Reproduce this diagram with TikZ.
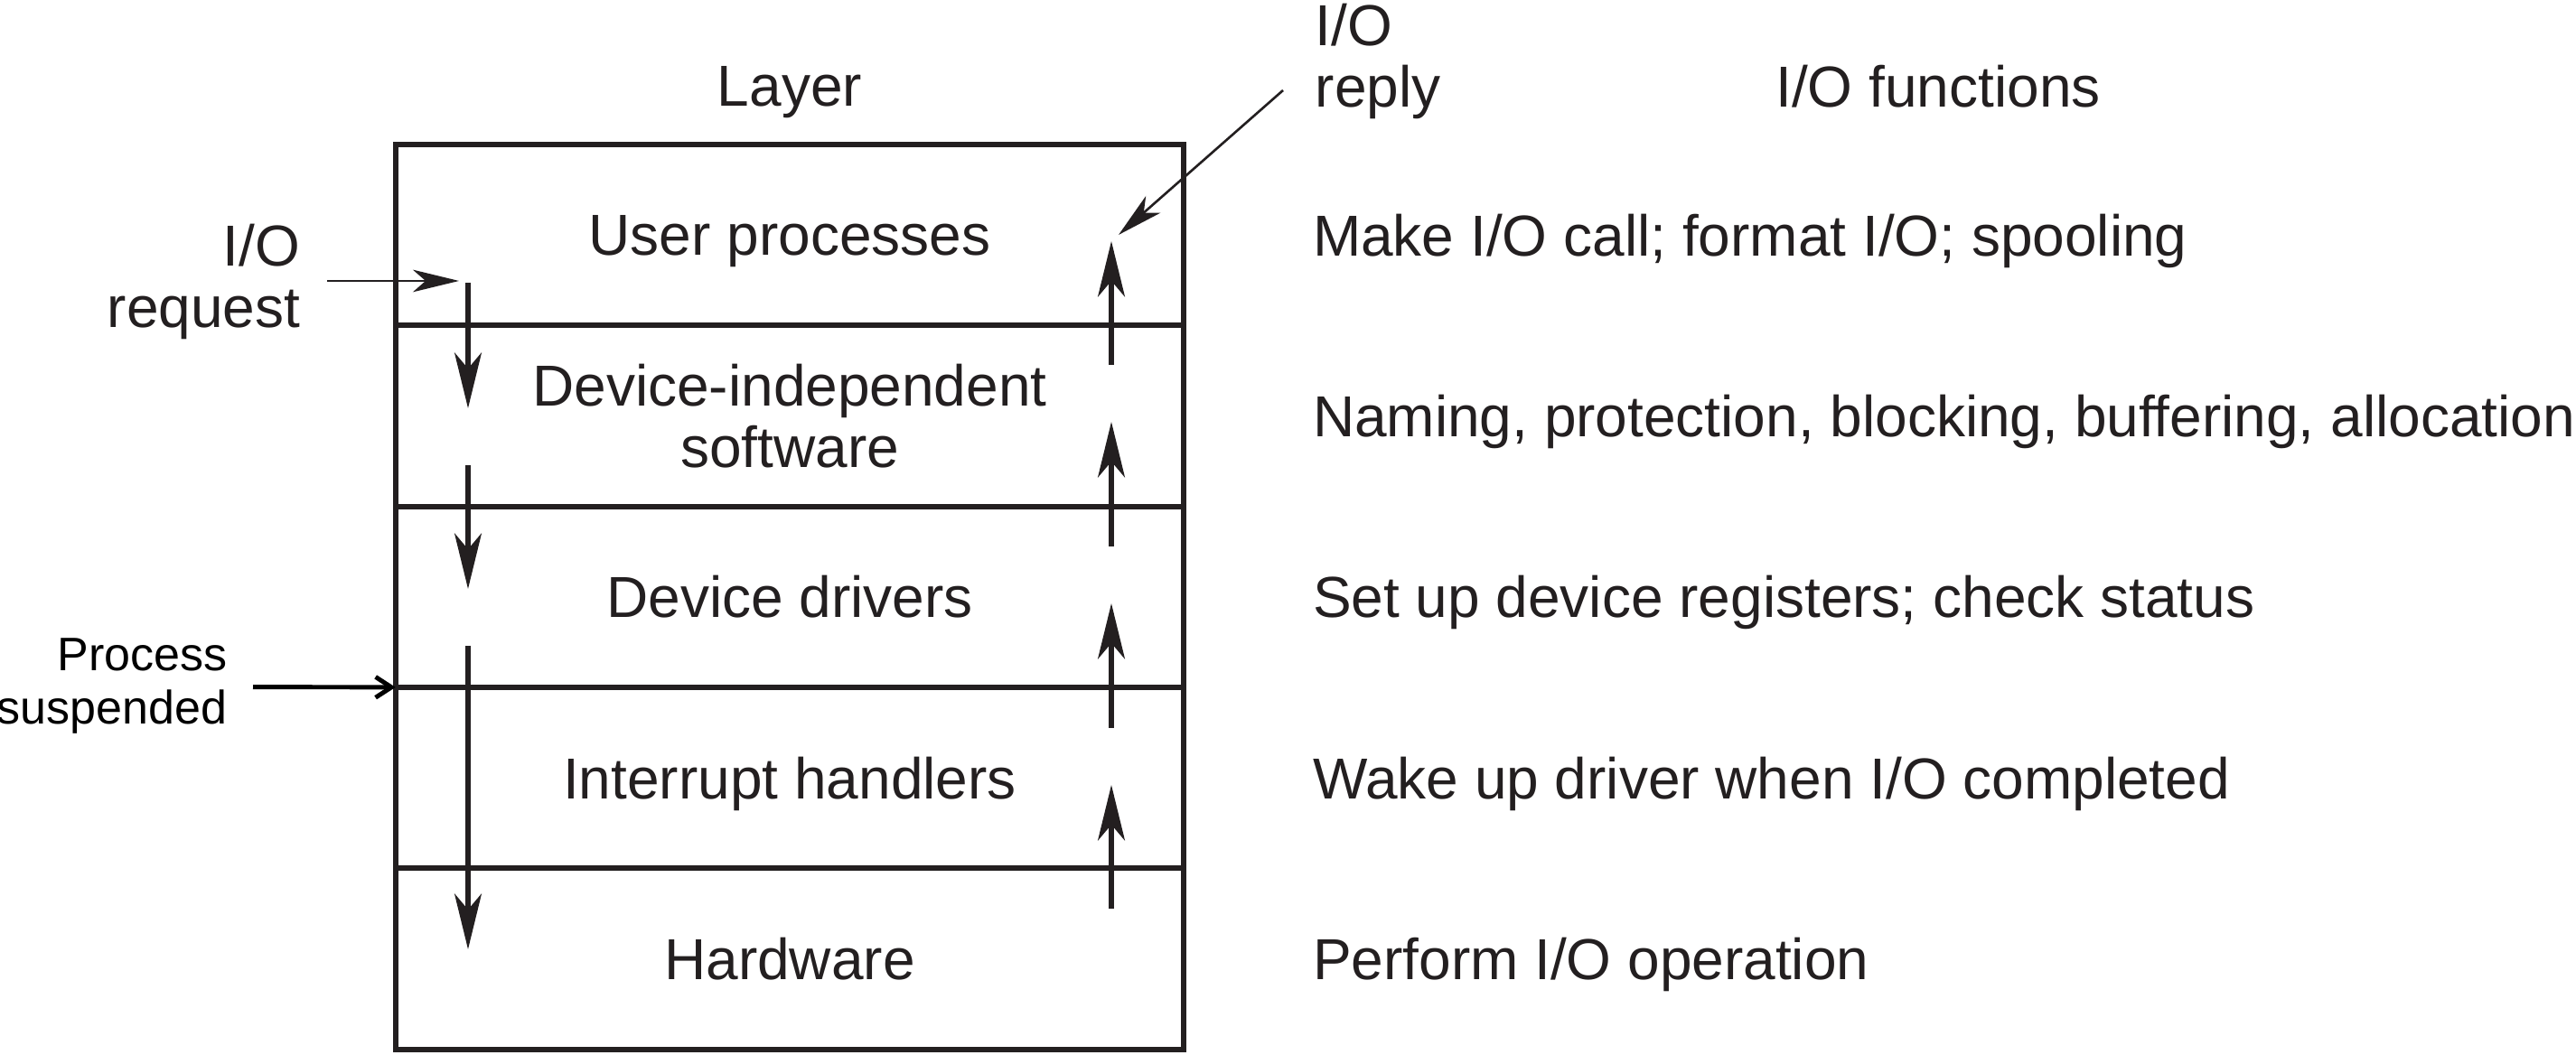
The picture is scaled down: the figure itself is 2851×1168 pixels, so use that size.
\documentclass[tikz,border=0pt]{standalone}
\usepackage{fontspec}
\setmainfont{Liberation Sans}
\usepackage{tikz}
\usetikzlibrary{arrows.meta, positioning}
\usepackage{xcolor}
\definecolor{ink}{HTML}{231F20}
\newcommand{\bodysize}{\fontsize{18.2pt}{19.4pt}\selectfont}
\newcommand{\notesize}{\fontsize{14.8pt}{16.6pt}\selectfont}
\tikzset{
  layer/.style={rectangle, draw=ink, line width=1.7pt, text=ink,
                minimum width=8.72cm, minimum height=2.002cm,
                inner sep=0pt, outer sep=0pt, align=center,
                text depth=0pt, font=\bodysize},
  func/.style={text=ink, inner sep=0pt, text depth=0pt, font=\bodysize},
  caption/.style={text=ink, inner sep=0pt, text depth=0pt, font=\bodysize},
  flow/.style={draw=ink, line width=1.5pt,
               -{Stealth[length=17.5pt, width=8.5pt, inset=5pt]}},
  pointer/.style={draw=ink, line width=0.75pt,
                  -{Stealth[length=14.5pt, width=7pt, inset=4pt]}},
  halt/.style={draw=black, line width=1.4pt,
               -{Straight Barb[length=5pt, width=6.5pt]}},
}

\begin{document}
\begin{tikzpicture}[x=0.01cm, y=-0.01cm]
  \useasboundingbox (0,0) rectangle (2851,1168);

  % the layer stack
  \node[layer] (user) at (874,260.1) {User processes};
  \node[layer, below=0pt of user] (indep) {Device-independent\\software};
  \node[layer, below=0pt of indep] (drv) {Device drivers};
  \node[layer, below=0pt of drv] (intr) {Interrupt handlers};
  \node[layer, below=0pt of intr] (hw) {Hardware};

  % headings
  \node[func, above=0.42cm of user] (layerhead) {Layer};
  \node[func] (funchead) at (2145,95) {I/O functions};

  % what each layer does
  \node[func, right=1.42cm of user] (fuser) {Make I/O call; format I/O; spooling};
  \node[func, right=1.42cm of indep] (findep) {Naming, protection, blocking, buffering, allocation};
  \node[func, right=1.42cm of drv] (fdrv) {Set up device registers; check status};
  \node[func, right=1.42cm of intr] (fintr) {Wake up driver when I/O completed};
  \node[func, right=1.42cm of hw] (fhw) {Perform I/O operation};

  % side labels
  \node[caption, align=right, anchor=east] (req) at (333,305) {I/O\\request};
  \node[caption, align=left, anchor=west] (rep) at (1455,61) {I/O\\reply};
  \node[caption, align=right, anchor=east, text=black, font=\notesize] (susp)
    at (252,754) {Process\\suspended};

  % free ends of the connectors
  \path (362,311) coordinate (reqtail)  (508,311) coordinate (reqtip)
        (1420,100) coordinate (reptail) (1238,260) coordinate (reptip)
        (280,760.6) coordinate (susptail);
  \path (518,313) coordinate (dn1s) (518,452) coordinate (dn1e)
        (518,515) coordinate (dn2s) (518,652) coordinate (dn2e)
        (518,715) coordinate (dn3s) (518,1051) coordinate (dn3e);
  \path (1230,1006) coordinate (up1s) (1230,869) coordinate (up1e)
        (1230,806) coordinate (up2s) (1230,668) coordinate (up2e)
        (1230,605) coordinate (up3s) (1230,467) coordinate (up3e)
        (1230,404) coordinate (up4s) (1230,267) coordinate (up4e);

  % request goes down
  \draw[pointer] (reqtail) -- (reqtip);
  \draw[flow] (dn1s) -- (dn1e);
  \draw[flow] (dn2s) -- (dn2e);
  \draw[flow] (dn3s) -- (dn3e);
  \draw[halt] (susptail) -- (intr.north west);

  % reply comes up
  \draw[flow] (up1s) -- (up1e);
  \draw[flow] (up2s) -- (up2e);
  \draw[flow] (up3s) -- (up3e);
  \draw[flow] (up4s) -- (up4e);
  \draw[pointer] (reptail) -- (reptip);

\end{tikzpicture}
\end{document}
